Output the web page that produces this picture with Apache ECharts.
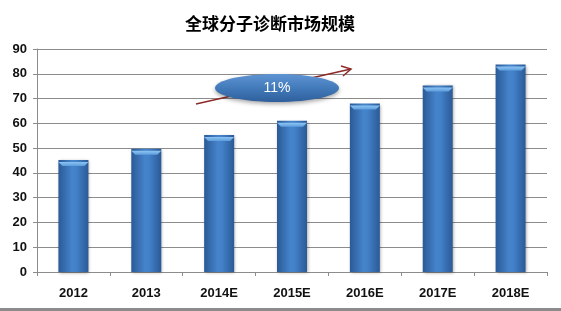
<!DOCTYPE html>
<html><head><meta charset="utf-8">
<script src="https://cdn.jsdelivr.net/npm/echarts@6/dist/echarts.min.js"></script>
<style>html,body{margin:0;padding:0;background:#fff}#c{width:561px;height:311px}</style>
</head><body><div id="c"></div>
<script>
var categories = ['2012','2013','2014E','2015E','2016E','2017E','2018E'];
var marketSize = [45.2, 49.7, 55.3, 61.0, 68.0, 75.3, 83.7];
var yTicks = {min: 0, max: 90, interval: 10};
var growthLabel = '11%';
var titleText = '全球分子诊断市场规模';

var chart = echarts.init(document.getElementById('c'), null, {renderer: 'canvas'});
var barGrad = new echarts.graphic.LinearGradient(0, 0, 1, 0, [
  {offset: 0, color: '#2b5a96'},
  {offset: 0.45, color: '#4583cb'},
  {offset: 0.6, color: '#4280c8'},
  {offset: 1, color: '#2b5a96'}
]);
chart.setOption({
  animation: false,
  title: {text: titleText, left: 180, top: 10,
    textStyle: {fontFamily: 'Noto Sans CJK SC', fontSize: 17, fontWeight: 'bold', color: '#000'}},
  grid: {left: 37, right: 14, top: 49, bottom: 39, containLabel: false},
  xAxis: {type: 'category', data: categories,
    axisLine: {show: true, lineStyle: {color: '#8c8c8c', width: 1}},
    axisTick: {show: true, length: 4, lineStyle: {color: '#8c8c8c'}},
    axisLabel: {color: '#111', fontFamily: 'Liberation Sans', fontWeight: 'bold', fontSize: 13, margin: 15}},
  yAxis: {type: 'value', min: yTicks.min, max: yTicks.max, interval: yTicks.interval,
    axisLine: {show: true, lineStyle: {color: '#8c8c8c'}},
    axisTick: {show: true, length: 4, inside: false, lineStyle: {color: '#8c8c8c'}},
    splitLine: {show: true, lineStyle: {color: '#8c8c8c', width: 1}},
    axisLabel: {color: '#111', fontFamily: 'Liberation Sans', fontWeight: 'bold', fontSize: 13, margin: 10}},
  series: [
    {type: 'bar', data: marketSize, barWidth: 30,
      itemStyle: {color: barGrad,
        shadowColor: 'rgba(0,0,0,0.35)', shadowBlur: 3, shadowOffsetX: 1, shadowOffsetY: 1}},
    {type: 'pictorialBar', data: marketSize, symbol: 'path://M0,0 L30,0 L26,4 L4,4 Z',
      symbolSize: [30, 4], symbolPosition: 'end', symbolOffset: [0, 2], z: 3,
      itemStyle: {color: new echarts.graphic.LinearGradient(0, 0, 0, 1, [
        {offset: 0, color: '#8cc4f2'}, {offset: 1, color: '#5d9ddd'}])}}
  ],
  graphic: [
    {type: 'line', shape: {x1: 196, y1: 104, x2: 351, y2: 69}, style: {stroke: '#8e2a2a', lineWidth: 1.5}, z: 10},
    {type: 'polyline', shape: {points: [[341, 66], [351, 69], [343, 76]]}, style: {stroke: '#8e2a2a', lineWidth: 1.5, fill: null}, z: 10},
    {type: 'ellipse', shape: {cx: 277, cy: 88, rx: 62, ry: 14},
      style: {fill: new echarts.graphic.LinearGradient(0, 0, 0, 1, [
        {offset: 0, color: '#5f94d3'}, {offset: 0.5, color: '#427aba'}, {offset: 1, color: '#2f5f9c'}]),
        shadowColor: 'rgba(0,0,0,0.35)', shadowBlur: 4, shadowOffsetY: 2}, z: 11},
    {type: 'text', x: 277, y: 88, style: {text: growthLabel, fill: '#fff', font: '14px "Liberation Sans"', align: 'center', verticalAlign: 'middle'}, z: 12},
    {type: 'rect', shape: {x: 0, y: 308, width: 561, height: 3}, style: {fill: '#8c8c8c'}, z: 10}
  ]
});
</script></body></html>
